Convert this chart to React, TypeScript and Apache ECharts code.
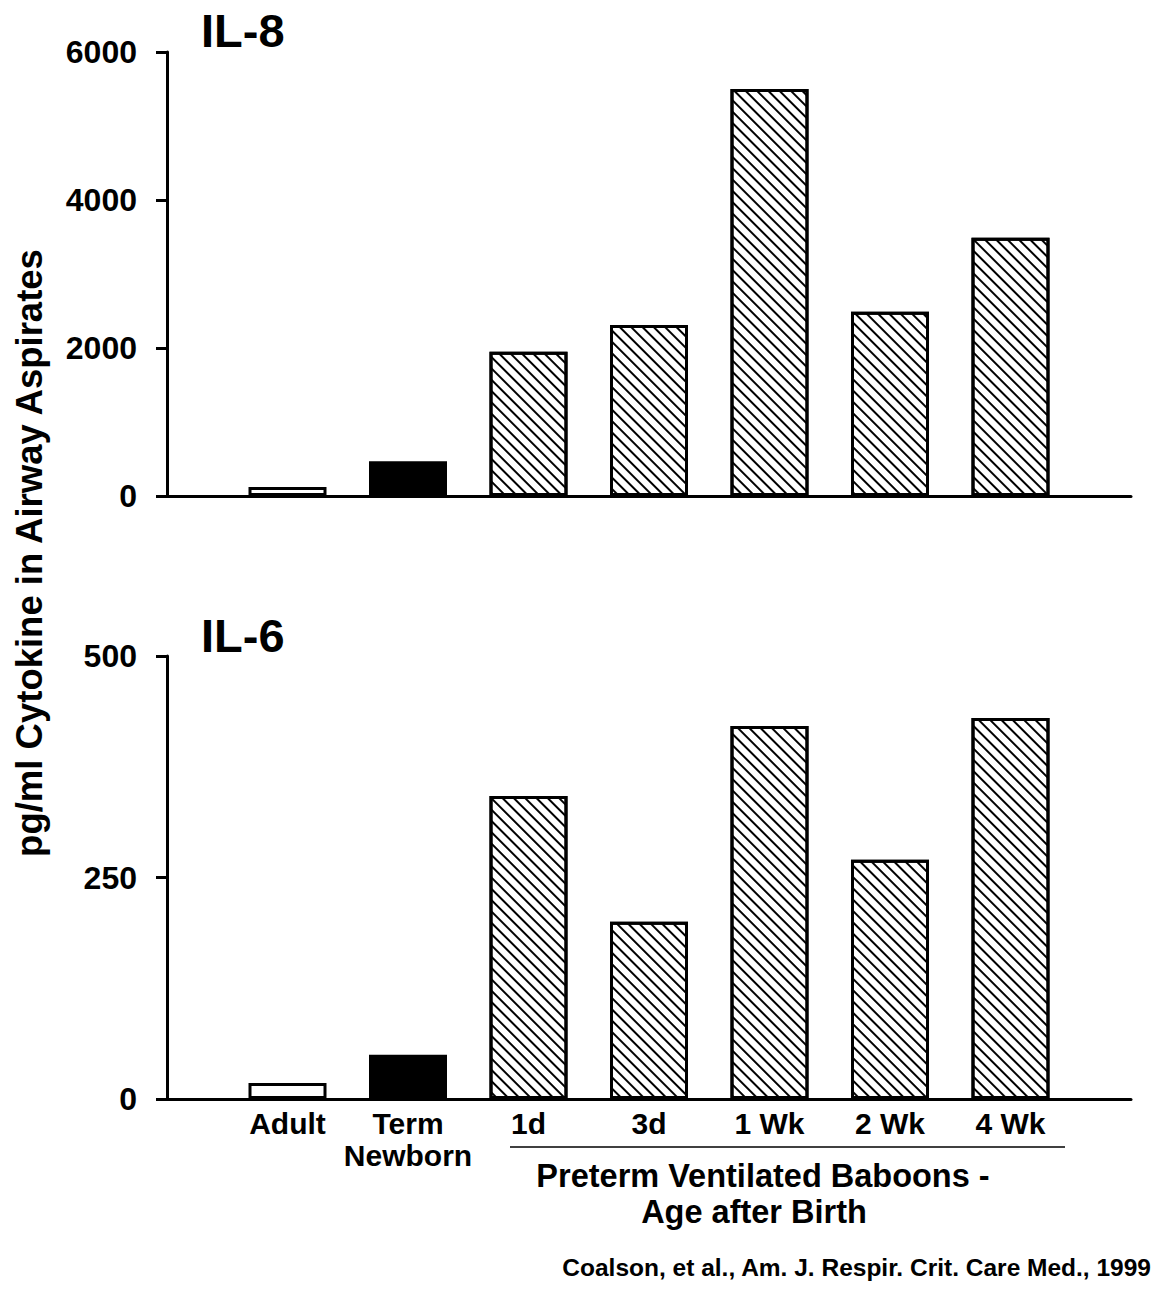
import React, { useEffect, useRef } from "react";
import * as echarts from "echarts";

const categories = ["", "Adult", "Term\nNewborn", "1d", "3d", "1 Wk", "2 Wk", "4 Wk", ""];
const il8Values = [null, 120, 470, 1950, 2310, 5500, 2490, 3490, null];
const il6Values = [null, 18, 50, 342, 200, 421, 270, 430, null];
const barKinds = ["", "open", "solid", "hatch", "hatch", "hatch", "hatch", "hatch", ""];
const il8Axis = { min: 0, max: 6000, interval: 2000 };
const il6Axis = { min: 0, max: 500, interval: 250 };

const FONT = '"Liberation Sans", Arial, sans-serif';

function itemFor(v: number | null, kind: string) {
  if (v === null) return "-";
  const base: any = { borderColor: "#000", borderWidth: 3 };
  if (kind === "solid") {
    base.color = "#000";
  } else if (kind === "open") {
    base.color = "#fff";
  } else {
    base.color = "#fff";
    base.decal = {
      symbol: "rect",
      symbolSize: 1,
      color: "#000",
      dashArrayX: [1, 0],
      dashArrayY: [1.2, 5.4],
      rotation: Math.PI / 4,
    };
  }
  return { value: v, itemStyle: base };
}

export default function App() {
  const ref = useRef<HTMLDivElement>(null);
  useEffect(() => {
    const chart = echarts.init(ref.current!, null, { renderer: "svg" });
    const yAxisCommon = (grid: number, ax: any) => ({
      type: "value",
      gridIndex: grid,
      min: ax.min,
      max: ax.max,
      interval: ax.interval,
      axisLine: { show: true, lineStyle: { color: "#000", width: 3 } },
      axisTick: { show: true, length: 11, lineStyle: { color: "#000", width: 3 } },
      splitLine: { show: false },
      axisLabel: {
        margin: 30,
        color: "#000",
        fontSize: 32,
        fontWeight: "bold",
        fontFamily: FONT,
        formatter: (v: number) => String(v),
      },
    });
    const xAxisCommon = (grid: number, showLabels: boolean) => ({
      type: "category",
      gridIndex: grid,
      data: categories,
      boundaryGap: false,
      axisLine: { show: true, lineStyle: { color: "#000", width: 3 } },
      axisTick: { show: false },
      splitLine: { show: false },
      axisLabel: {
        show: showLabels,
        interval: 0,
        margin: 8,
        color: "#000",
        fontSize: 30,
        lineHeight: 32,
        fontWeight: "bold",
        fontFamily: FONT,
      },
    });
    chart.setOption({
      animation: false,
      backgroundColor: "#fff",
      grid: [
        { left: 167, top: 52, width: 964, height: 444 },
        { left: 167, top: 656, width: 964, height: 443 },
      ],
      xAxis: [xAxisCommon(0, false), xAxisCommon(1, true)],
      yAxis: [yAxisCommon(0, il8Axis), yAxisCommon(1, il6Axis)],
      series: [
        {
          type: "bar",
          xAxisIndex: 0,
          yAxisIndex: 0,
          barWidth: 78,
          data: il8Values.map((v, i) => itemFor(v, barKinds[i])),
        },
        {
          type: "bar",
          xAxisIndex: 1,
          yAxisIndex: 1,
          barWidth: 78,
          data: il6Values.map((v, i) => itemFor(v, barKinds[i])),
        },
      ],
      graphic: [
        {
          type: "text",
          x: 201,
          y: 30,
          style: { text: "IL-8", font: `bold 47px ${FONT}`, fill: "#000", verticalAlign: "middle" },
        },
        {
          type: "text",
          x: 201,
          y: 635,
          style: { text: "IL-6", font: `bold 47px ${FONT}`, fill: "#000", verticalAlign: "middle" },
        },
        {
          type: "text",
          x: 29,
          y: 553,
          rotation: Math.PI / 2,
          style: {
            text: "pg/ml Cytokine in Airway Aspirates",
            font: `bold 36.5px ${FONT}`,
            fill: "#000",
            align: "center",
            verticalAlign: "middle",
          },
        },
        {
          type: "line",
          shape: { x1: 510, y1: 1147, x2: 1065, y2: 1147 },
          style: { stroke: "#000", lineWidth: 1.5 },
        },
        {
          type: "text",
          x: 763,
          y: 1176,
          style: {
            text: "Preterm Ventilated Baboons -",
            font: `bold 32.5px ${FONT}`,
            fill: "#000",
            align: "center",
            verticalAlign: "middle",
          },
        },
        {
          type: "text",
          x: 754,
          y: 1212,
          style: {
            text: "Age after Birth",
            font: `bold 32.5px ${FONT}`,
            fill: "#000",
            align: "center",
            verticalAlign: "middle",
          },
        },
        {
          type: "text",
          x: 1151,
          y: 1267,
          style: {
            text: "Coalson, et al., Am. J. Respir. Crit. Care Med., 1999",
            font: `bold 24.5px ${FONT}`,
            fill: "#000",
            align: "right",
            verticalAlign: "middle",
          },
        },
      ],
    });
    return () => chart.dispose();
  }, []);
  return (
    <div
      ref={ref}
      style={{ position: "fixed", left: 0, top: 0, width: 1158, height: 1289, background: "#fff" }}
    />
  );
}
